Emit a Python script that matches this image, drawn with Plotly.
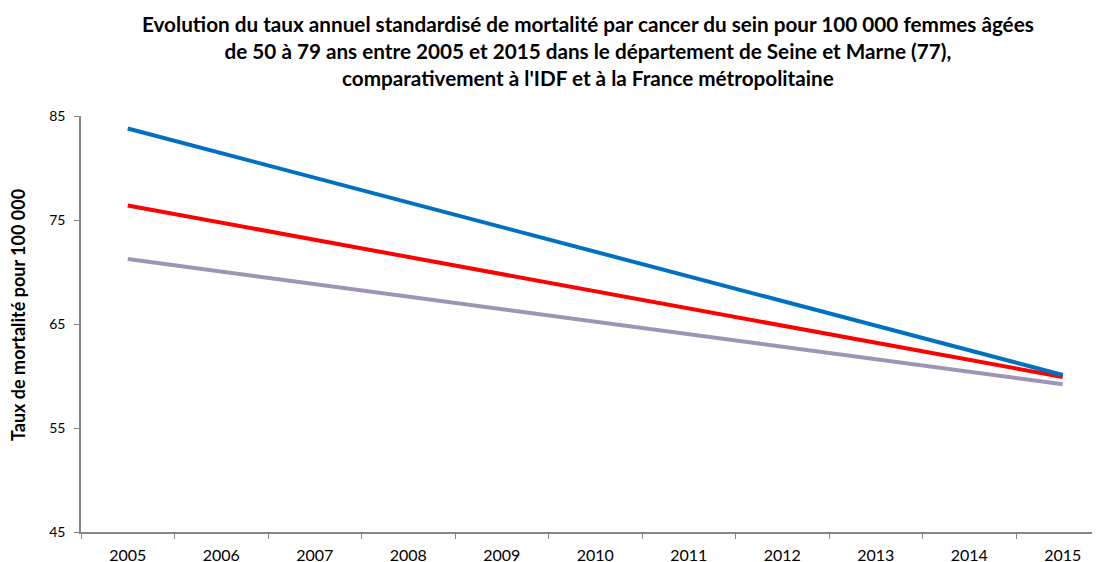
import plotly.graph_objects as go

years = [str(y) for y in range(2005, 2016)]
x_points = ["2005", "2015"]
seine_et_marne = [83.8, 60.1]
idf = [76.4, 59.9]
france = [71.25, 59.2]

series = [
    ("Seine et Marne (77)", seine_et_marne, "#0070C0"),
    ("IDF", idf, "#FF0000"),
    ("France métropolitaine", france, "#A093B8"),
]

title_text = ("<b>Evolution du taux annuel standardisé de mortalité par cancer du sein pour 100 000 femmes âgées<br>"
              "de 50 à 79 ans entre 2005 et 2015 dans le département de Seine et Marne (77),<br>"
              "comparativement à l'IDF et à la France métropolitaine</b>")

# page body has an 8px offset; figure coordinates = screen coordinates - 8
OFF = 8
W, H = 1100, 562
L, R, T, B = 81 - OFF, 0, 116 - OFF, H - (532 - OFF)
pw, ph = W - L - R, H - T - B
cat_px = 93.5
x_hi = -0.5 + pw / cat_px

fig = go.Figure()
for name, vals, color in reversed(series):
    fig.add_trace(go.Scatter(x=x_points, y=vals, mode="lines", name=name,
                             line=dict(color=color, width=4)))

fig.update_layout(
    width=W, height=H,
    margin=dict(l=L, r=R, t=T, b=B, autoexpand=False),
    paper_bgcolor="white", plot_bgcolor="white",
    showlegend=False,
    font=dict(family="Lato, Open Sans, sans-serif", color="black"),
)
fig.add_annotation(
    text=title_text, xref="paper", yref="paper",
    x=(588 - OFF - L) / pw, y=1 + (T - (10 - OFF)) / ph, xanchor="center", yanchor="top",
    showarrow=False, align="center",
    font=dict(size=20.7, family="Lato, sans-serif", color="black"),
)
fig.add_annotation(
    text="<b>Taux de mortalité pour 100 000</b>", xref="paper", yref="paper",
    x=(18 - OFF - L) / pw, y=1 - (315 - OFF - T) / ph, xanchor="center", yanchor="middle",
    textangle=-90, showarrow=False,
    font=dict(size=18, family="Lato, sans-serif", color="black"),
)
fig.update_xaxes(
    type="category", categoryorder="array", categoryarray=years,
    range=[-0.5, x_hi], tickson="boundaries",
    ticks="outside", ticklen=5, tickcolor="#868686",
    showline=True, linecolor="#868686", linewidth=1.5,
    showgrid=False, tickfont=dict(size=16, color="black"), automargin=False,
    ticklabelstandoff=8,
)
fig.update_yaxes(
    range=[45, 85], tickvals=[45, 55, 65, 75, 85],
    ticks="outside", ticklen=5, tickcolor="#868686",
    showline=True, linecolor="#868686", linewidth=1.5,
    showgrid=False, zeroline=False, tickfont=dict(size=14, color="black"),
    automargin=False, ticklabelstandoff=6,
)

fig.write_html("out.html")
